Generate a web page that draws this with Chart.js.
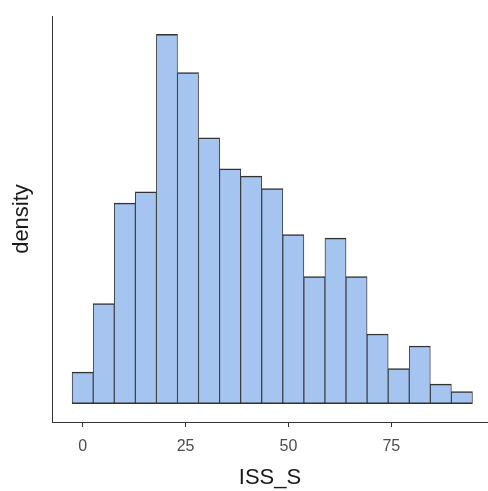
<!DOCTYPE html>
<html>
<head>
<meta charset="utf-8">
<script src="https://cdn.jsdelivr.net/npm/chart.js@4"></script>
<style>
  html, body { margin: 0; padding: 0; background: #fff; }
  #wrap { width: 488px; height: 491px; }
</style>
</head>
<body>
<div id="wrap"><canvas id="c" width="488" height="491"></canvas></div>
<script>
// Bin centers (ISS_S) and estimated densities
const binCenters = [0, 5.12, 10.24, 15.36, 20.48, 25.6, 30.72, 35.84, 40.96, 46.08, 51.2, 56.32, 61.44, 66.56, 71.68, 76.8, 81.92, 87.04, 92.16];
const densities = [0.0017, 0.00542, 0.01086, 0.01147, 0.02, 0.01794, 0.0144, 0.01272, 0.01232, 0.01165, 0.00916, 0.00688, 0.00896, 0.00688, 0.00377, 0.0019, 0.00312, 0.00105, 0.00065];
const xTickValues = [0, 25, 50, 75];
const xTitle = 'ISS_S';
const yTitle = 'density';

const points = binCenters.map((x, i) => ({ x: x, y: densities[i] }));
const fontFamily = '"Liberation Sans", Arial, Helvetica, sans-serif';

new Chart(document.getElementById('c'), {
  type: 'bar',
  data: {
    datasets: [{
      data: points,
      backgroundColor: '#a6c4f0',
      borderColor: '#333333',
      borderWidth: { top: 1.5, bottom: 1.5, left: 0.9, right: 0.9 },
      borderSkipped: false,
      barPercentage: 1,
      categoryPercentage: 1
    }]
  },
  options: {
    responsive: false,
    animation: false,
    devicePixelRatio: 1,
    layout: { padding: { top: 16, right: 0, left: 0, bottom: 0 } },
    plugins: { legend: { display: false }, tooltip: { enabled: false } },
    scales: {
      x: {
        type: 'linear',
        offset: false,
        min: -7.45,
        max: 98.5,
        afterBuildTicks: (s) => { s.ticks = xTickValues.map(v => ({ value: v })); },
        afterFit: (s) => { s.height = 69; },
        grid: { display: true, offset: false, drawOnChartArea: false, drawTicks: true, tickLength: 5, tickColor: '#333333', tickWidth: 1 },
        border: { display: true, color: '#333333', width: 1 },
        ticks: { color: '#4d4d4d', font: { family: fontFamily, size: 16 }, padding: 10, maxRotation: 0 },
        title: { display: true, text: xTitle, color: '#1a1a1a', font: { family: fontFamily, size: 22 }, padding: { top: 8, bottom: 0 } }
      },
      y: {
        min: -0.001,
        max: 0.021,
        afterFit: (s) => { s.width = 52; },
        grid: { display: false, drawTicks: false },
        border: { display: true, color: '#333333', width: 1 },
        ticks: { display: false },
        title: { display: true, text: yTitle, color: '#1a1a1a', font: { family: fontFamily, size: 22 }, padding: { top: 9, bottom: 0 } }
      }
    }
  }
});
</script>
</body>
</html>
